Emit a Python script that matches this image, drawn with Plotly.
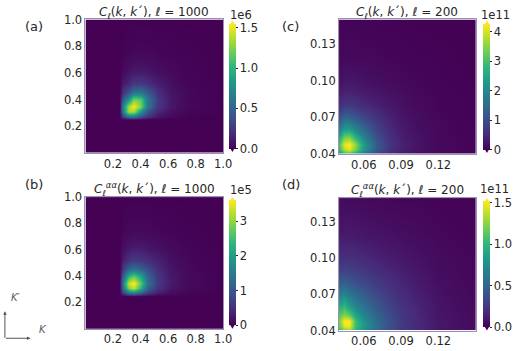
import plotly.graph_objects as go

W, H = 520, 351

# ---------------- data ----------------
# k grids (same grid for k and k')
K_HI = [0.0, 0.25, 0.27, 0.31, 0.35, 0.40, 0.45, 0.52, 0.62, 0.75, 1.0]      # panels (a),(b)
K_LO = [0.04, 0.044, 0.048, 0.053, 0.06, 0.07, 0.08, 0.09, 0.10, 0.12, 0.15]  # panels (c),(d)

# (a) C_l(k,k'), l=1000, units of 1e6  (rows: k', cols: k)
Z_A = [
    [0, 0, 0,    0,    0,    0,    0,    0,    0,     0,     0],
    [0, 0, 0,    0,    0,    0,    0,    0,    0,     0,     0],
    [0, 0, 0.28, 0.60, 0.65, 0.42, 0.22, 0.10, 0.04,  0.01,  0],
    [0, 0, 0.60, 1.35, 1.35, 0.80, 0.40, 0.17, 0.07,  0.02,  0],
    [0, 0, 0.65, 1.35, 1.55, 1.25, 0.60, 0.25, 0.10,  0.03,  0],
    [0, 0, 0.42, 0.80, 1.25, 1.15, 0.62, 0.26, 0.10,  0.03,  0],
    [0, 0, 0.22, 0.40, 0.60, 0.62, 0.45, 0.21, 0.09,  0.03,  0],
    [0, 0, 0.10, 0.17, 0.25, 0.26, 0.21, 0.13, 0.06,  0.02,  0],
    [0, 0, 0.04, 0.07, 0.10, 0.10, 0.09, 0.06, 0.04,  0.015, 0],
    [0, 0, 0.01, 0.02, 0.03, 0.03, 0.03, 0.02, 0.015, 0.01,  0],
    [0, 0, 0,    0,    0,    0,    0,    0,    0,     0,     0],
]

# (b) C_l^aa(k,k'), l=1000, units of 1e5
Z_B = [
    [0, 0, 0,    0,    0,    0,    0,    0,    0,    0,    0],
    [0, 0, 0,    0,    0,    0,    0,    0,    0,    0,    0],
    [0, 0, 0.55, 1.20, 1.40, 1.00, 0.55, 0.27, 0.12, 0.05, 0],
    [0, 0, 1.20, 2.90, 3.30, 2.30, 1.15, 0.52, 0.22, 0.08, 0],
    [0, 0, 1.40, 3.30, 3.65, 2.70, 1.35, 0.62, 0.26, 0.09, 0],
    [0, 0, 1.00, 2.30, 2.70, 2.10, 1.15, 0.57, 0.25, 0.09, 0],
    [0, 0, 0.55, 1.15, 1.35, 1.15, 0.85, 0.47, 0.21, 0.08, 0],
    [0, 0, 0.27, 0.52, 0.62, 0.57, 0.47, 0.33, 0.16, 0.06, 0],
    [0, 0, 0.12, 0.22, 0.26, 0.25, 0.21, 0.16, 0.10, 0.04, 0],
    [0, 0, 0.05, 0.08, 0.09, 0.09, 0.08, 0.06, 0.04, 0.02, 0],
    [0, 0, 0,    0,    0,    0,    0,    0,    0,    0,    0],
]

# (c) C_l(k,k'), l=200, units of 1e11
Z_C = [
    [2.00, 2.80, 3.00, 2.50, 1.60, 0.90, 0.50, 0.30, 0.20, 0.08, 0.02],
    [2.80, 3.80, 4.10, 3.40, 2.20, 1.20, 0.65, 0.38, 0.24, 0.10, 0.03],
    [3.00, 4.10, 4.35, 3.60, 2.30, 1.25, 0.68, 0.40, 0.25, 0.10, 0.03],
    [2.60, 3.50, 3.60, 2.90, 1.90, 1.10, 0.62, 0.37, 0.24, 0.10, 0.03],
    [1.80, 2.40, 2.40, 1.95, 1.40, 0.90, 0.52, 0.32, 0.20, 0.09, 0.03],
    [1.00, 1.35, 1.35, 1.15, 0.90, 0.65, 0.40, 0.26, 0.17, 0.08, 0.02],
    [0.55, 0.70, 0.72, 0.65, 0.53, 0.40, 0.29, 0.20, 0.13, 0.06, 0.02],
    [0.32, 0.40, 0.42, 0.38, 0.32, 0.26, 0.20, 0.15, 0.10, 0.05, 0.015],
    [0.20, 0.25, 0.26, 0.24, 0.20, 0.17, 0.13, 0.10, 0.07, 0.04, 0.01],
    [0.08, 0.10, 0.10, 0.10, 0.09, 0.08, 0.06, 0.05, 0.04, 0.025, 0.01],
    [0.02, 0.03, 0.03, 0.03, 0.03, 0.02, 0.02, 0.015, 0.01, 0.01, 0.005],
]

# (d) C_l^aa(k,k'), l=200, units of 1e11
Z_D = [
    [0.90, 1.15, 1.20, 1.00, 0.75, 0.50, 0.35, 0.25, 0.18, 0.09, 0.04],
    [1.15, 1.45, 1.50, 1.05, 0.80, 0.55, 0.38, 0.27, 0.19, 0.10, 0.04],
    [1.20, 1.55, 1.55, 1.05, 0.78, 0.53, 0.37, 0.26, 0.19, 0.10, 0.04],
    [1.10, 1.25, 1.15, 0.90, 0.68, 0.49, 0.35, 0.25, 0.18, 0.09, 0.04],
    [0.90, 1.00, 0.85, 0.70, 0.56, 0.42, 0.31, 0.23, 0.17, 0.085, 0.035],
    [0.62, 0.70, 0.60, 0.52, 0.44, 0.34, 0.26, 0.19, 0.14, 0.075, 0.03],
    [0.42, 0.46, 0.42, 0.38, 0.33, 0.27, 0.21, 0.16, 0.12, 0.065, 0.025],
    [0.29, 0.31, 0.30, 0.28, 0.25, 0.20, 0.16, 0.13, 0.10, 0.055, 0.02],
    [0.20, 0.21, 0.21, 0.20, 0.18, 0.15, 0.12, 0.10, 0.08, 0.05, 0.02],
    [0.10, 0.11, 0.11, 0.10, 0.09, 0.08, 0.07, 0.06, 0.05, 0.03, 0.015],
    [0.04, 0.04, 0.04, 0.04, 0.035, 0.03, 0.025, 0.02, 0.02, 0.015, 0.01],
]

ZMAX = {"a": 1.55, "b": 3.6, "c": 4.27, "d": 1.52}
CB_TICKS = {
    "a": ([0, 0.5, 1.0, 1.5], ["0.0", "0.5", "1.0", "1.5"]),
    "b": ([0, 1, 2, 3], ["0", "1", "2", "3"]),
    "c": ([0, 1, 2, 3, 4], ["0", "1", "2", "3", "4"]),
    "d": ([0, 0.5, 1.0, 1.5], ["0.0", "0.5", "1.0", "1.5"]),
}
MULT = {"a": "1e6", "b": "1e5", "c": "1e11", "d": "1e11"}
HI_TICKS = [0.2, 0.4, 0.6, 0.8, 1.0]
HI_TICKTEXT = ["0.2", "0.4", "0.6", "0.8", "1.0"]
LO_XTICKS = [0.06, 0.09, 0.12]
LO_XTICKTEXT = ["0.06", "0.09", "0.12"]
LO_YTICKS = [0.04, 0.07, 0.10, 0.13]
LO_YTICKTEXT = ["0.04", "0.07", "0.10", "0.13"]

T1 = "<i>C</i><sub><i>ℓ</i></sub>(<i>k</i>, <i>k</i>´), <i>ℓ</i> = 1000"
T2 = "<i>C</i><sub><i>ℓ</i></sub><sup><i>αα</i></sup>(<i>k</i>, <i>k</i>´), <i>ℓ</i> = 1000"
T3 = "<i>C</i><sub><i>ℓ</i></sub>(<i>k</i>, <i>k</i>´), <i>ℓ</i> = 200"
T4 = "<i>C</i><sub><i>ℓ</i></sub><sup><i>αα</i></sup>(<i>k</i>, <i>k</i>´), <i>ℓ</i> = 200"

# ---------------- layout helpers (pixels) ----------------
def px(x):
    return x / W

def py(y):
    return 1 - y / H

FONT = "DejaVu Sans"
TXT = "#262626"

# panel geometry in pixels: left, right, top, bottom
PANELS = {
    "a": dict(box=(87, 227, 13, 152), cb_x=233, cb=(20, 145), title_y=6, lab=(35, 20), mult=(232, 8),
              data=(K_HI, Z_A), rng=[0, 1], xt=(HI_TICKS, HI_TICKTEXT), yt=(HI_TICKS, HI_TICKTEXT), title=T1),
    "c": dict(box=(345, 484, 13, 153), cb_x=492, cb=(20, 146), title_y=6, lab=(296, 20), mult=(487, 8),
              data=(K_LO, Z_C), rng=[0.04, 0.15], xt=(LO_XTICKS, LO_XTICKTEXT), yt=(LO_YTICKS, LO_YTICKTEXT), title=T3),
    "b": dict(box=(87, 227, 198, 335), cb_x=233, cb=(204, 329), title_y=190, lab=(35, 185), mult=(232, 191),
              data=(K_HI, Z_B), rng=[0, 1], xt=(HI_TICKS, HI_TICKTEXT), yt=(HI_TICKS, HI_TICKTEXT), title=T2),
    "d": dict(box=(345, 484, 199, 337), cb_x=492, cb=(205, 331), title_y=191, lab=(296, 185), mult=(486, 190),
              data=(K_LO, Z_D), rng=[0.04, 0.15], xt=(LO_XTICKS, LO_XTICKTEXT), yt=(LO_YTICKS, LO_YTICKTEXT), title=T4),
}

fig = go.Figure()
layout = dict(
    width=W, height=H, margin=dict(l=0, r=0, t=0, b=0),
    paper_bgcolor="white", plot_bgcolor="white",
    font=dict(family=FONT, size=11, color=TXT),
    showlegend=False,
)
annotations = []
shapes = []

CB_THICK = 7
for i, key in enumerate(["a", "c", "b", "d"]):
    p = PANELS[key]
    l, r, t, b = p["box"]
    sfx = "" if i == 0 else str(i + 1)
    xa, ya = "x" + sfx, "y" + sfx
    kk, zz = p["data"]
    cb_top, cb_bot = p["cb"]
    tv, tt = CB_TICKS[key]
    fig.add_trace(go.Heatmap(
        x=kk, y=kk, z=zz, xaxis=xa, yaxis=ya,
        zsmooth="best", colorscale="Viridis", zmin=0, zmax=ZMAX[key],
        colorbar=dict(
            x=px(p["cb_x"]), xanchor="left", xpad=0, ypad=0,
            y=py((cb_top + cb_bot) / 2), yanchor="middle",
            lenmode="pixels", len=cb_bot - cb_top,
            thicknessmode="pixels", thickness=CB_THICK,
            outlinewidth=0, tickvals=tv, ticktext=tt,
            ticks="outside", ticklen=2, tickwidth=1, tickcolor=TXT,
            tickfont=dict(family=FONT, size=11.5, color=TXT),
        ),
        hoverinfo="skip",
    ))
    axcommon = dict(showgrid=False, zeroline=False, showline=True, mirror=True,
                    linecolor="#9a90b4", linewidth=1, ticks="", range=p["rng"],
                    tickfont=dict(family=FONT, size=11.5, color=TXT), fixedrange=True)
    layout["xaxis" + sfx] = dict(domain=[px(l), px(r)], anchor=ya,
                                 tickvals=p["xt"][0], ticktext=p["xt"][1], **axcommon)
    layout["yaxis" + sfx] = dict(domain=[py(b), py(t)], anchor=xa,
                                 tickvals=p["yt"][0], ticktext=p["yt"][1], **axcommon)
    # title
    annotations.append(dict(xref="paper", yref="paper", x=px((l + r) / 2), y=py(p["title_y"]),
                            text=p["title"], showarrow=False, xanchor="center", yanchor="middle",
                            font=dict(family=FONT, size=12, color=TXT)))
    # panel label
    annotations.append(dict(xref="paper", yref="paper", x=px(p["lab"][0]), y=py(p["lab"][1]),
                            text="(" + key + ")", showarrow=False, xanchor="center", yanchor="middle",
                            font=dict(family=FONT, size=13, color=TXT)))
    # multiplier
    annotations.append(dict(xref="paper", yref="paper", x=px(p["mult"][0]), y=py(p["mult"][1]),
                            text=MULT[key], showarrow=False, xanchor="left", yanchor="middle",
                            font=dict(family=FONT, size=11.5, color=TXT)))
    # extend triangles
    x0, x1 = p["cb_x"], p["cb_x"] + CB_THICK
    xm = (x0 + x1) / 2
    tip = 6
    shapes.append(dict(type="path", xref="paper", yref="paper",
                       path=f"M {px(x0)} {py(cb_top)} L {px(x1)} {py(cb_top)} L {px(xm)} {py(cb_top - tip)} Z",
                       fillcolor="#fde725", line=dict(width=0)))
    shapes.append(dict(type="path", xref="paper", yref="paper",
                       path=f"M {px(x0)} {py(cb_bot)} L {px(x1)} {py(cb_bot)} L {px(xm)} {py(cb_bot + tip)} Z",
                       fillcolor="#440154", line=dict(width=0)))

# K / K' orientation indicator
IND = "#555555"
annotations.append(dict(xref="paper", yref="paper", x=px(5), y=py(317), ax=0, ay=28,
                        text="", showarrow=True, arrowhead=2, arrowsize=0.7, arrowwidth=1, arrowcolor=IND))
annotations.append(dict(xref="paper", yref="paper", x=px(31), y=py(345), ax=-26, ay=0,
                        text="", showarrow=True, arrowhead=2, arrowsize=0.7, arrowwidth=1, arrowcolor=IND))
annotations.append(dict(xref="paper", yref="paper", x=px(9), y=py(310), text="<i>K</i>′",
                        showarrow=False, font=dict(family=FONT, size=10, color=IND)))
annotations.append(dict(xref="paper", yref="paper", x=px(38), y=py(344), text="<i>K</i>",
                        showarrow=False, font=dict(family=FONT, size=10, color=IND)))

layout["annotations"] = annotations
layout["shapes"] = shapes
fig.update_layout(**layout)
fig.write_html(
    "out.html",
    config={"displayModeBar": False},
    post_script="document.body.style.margin='0';document.body.style.overflow='hidden';",
)
